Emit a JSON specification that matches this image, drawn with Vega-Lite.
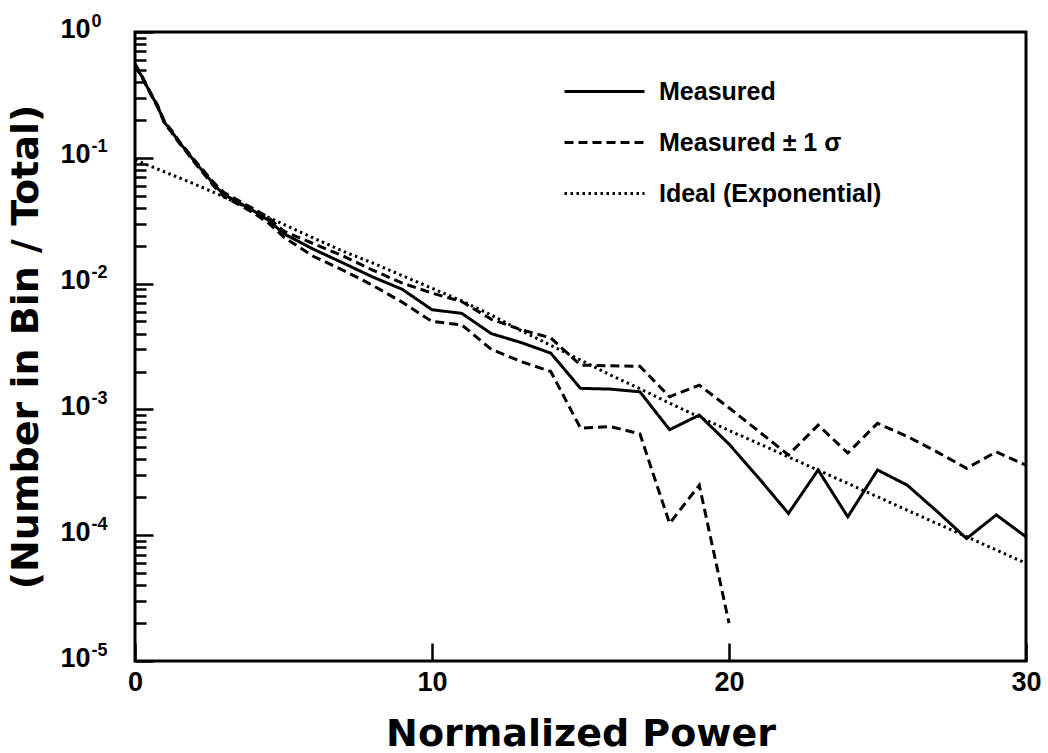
{
  "$schema": "https://vega.github.io/schema/vega-lite/v6.json",
  "width": 891,
  "height": 629,
  "autosize": {"type": "none"},
  "padding": {"left": 135, "top": 32, "right": 22, "bottom": 92},
  "background": "white",
  "config": {
    "view": {"stroke": "black", "strokeWidth": 3},
    "font": "Liberation Sans"
  },
  "datasets": {
    "curves": [
      {"power": 0, "fraction": 0.55, "curve": "measured", "series": "Measured"},
      {"power": 0.25, "fraction": 0.435, "curve": "measured", "series": "Measured"},
      {"power": 0.5, "fraction": 0.333, "curve": "measured", "series": "Measured"},
      {"power": 0.75, "fraction": 0.26, "curve": "measured", "series": "Measured"},
      {"power": 1, "fraction": 0.19, "curve": "measured", "series": "Measured"},
      {"power": 1.25, "fraction": 0.16, "curve": "measured", "series": "Measured"},
      {"power": 1.5, "fraction": 0.132, "curve": "measured", "series": "Measured"},
      {"power": 1.75, "fraction": 0.112, "curve": "measured", "series": "Measured"},
      {"power": 2, "fraction": 0.094, "curve": "measured", "series": "Measured"},
      {"power": 2.25, "fraction": 0.08, "curve": "measured", "series": "Measured"},
      {"power": 2.5, "fraction": 0.068, "curve": "measured", "series": "Measured"},
      {"power": 2.75, "fraction": 0.058, "curve": "measured", "series": "Measured"},
      {"power": 3, "fraction": 0.051, "curve": "measured", "series": "Measured"},
      {"power": 3.5, "fraction": 0.044, "curve": "measured", "series": "Measured"},
      {"power": 4, "fraction": 0.0378, "curve": "measured", "series": "Measured"},
      {"power": 4.5, "fraction": 0.0318, "curve": "measured", "series": "Measured"},
      {"power": 5, "fraction": 0.025, "curve": "measured", "series": "Measured"},
      {"power": 6, "fraction": 0.0188, "curve": "measured", "series": "Measured"},
      {"power": 7, "fraction": 0.0146, "curve": "measured", "series": "Measured"},
      {"power": 8, "fraction": 0.0113, "curve": "measured", "series": "Measured"},
      {"power": 9, "fraction": 0.009, "curve": "measured", "series": "Measured"},
      {"power": 10, "fraction": 0.0062, "curve": "measured", "series": "Measured"},
      {"power": 11, "fraction": 0.0058, "curve": "measured", "series": "Measured"},
      {"power": 12, "fraction": 0.004, "curve": "measured", "series": "Measured"},
      {"power": 13, "fraction": 0.0034, "curve": "measured", "series": "Measured"},
      {"power": 14, "fraction": 0.0028, "curve": "measured", "series": "Measured"},
      {"power": 15, "fraction": 0.00147, "curve": "measured", "series": "Measured"},
      {"power": 16, "fraction": 0.00145, "curve": "measured", "series": "Measured"},
      {"power": 17, "fraction": 0.00138, "curve": "measured", "series": "Measured"},
      {"power": 18, "fraction": 0.00069, "curve": "measured", "series": "Measured"},
      {"power": 19, "fraction": 0.0009, "curve": "measured", "series": "Measured"},
      {"power": 20, "fraction": 0.00053, "curve": "measured", "series": "Measured"},
      {"power": 21, "fraction": 0.000285, "curve": "measured", "series": "Measured"},
      {"power": 22, "fraction": 0.000149, "curve": "measured", "series": "Measured"},
      {"power": 23, "fraction": 0.00033, "curve": "measured", "series": "Measured"},
      {"power": 24, "fraction": 0.00014, "curve": "measured", "series": "Measured"},
      {"power": 25, "fraction": 0.00033, "curve": "measured", "series": "Measured"},
      {"power": 26, "fraction": 0.00025, "curve": "measured", "series": "Measured"},
      {"power": 27, "fraction": 0.000155, "curve": "measured", "series": "Measured"},
      {"power": 28, "fraction": 0.000094, "curve": "measured", "series": "Measured"},
      {"power": 29, "fraction": 0.000145, "curve": "measured", "series": "Measured"},
      {"power": 30, "fraction": 0.000097, "curve": "measured", "series": "Measured"},

      {"power": 0, "fraction": 0.56, "curve": "upper", "series": "Measured ± 1 σ"},
      {"power": 0.25, "fraction": 0.44, "curve": "upper", "series": "Measured ± 1 σ"},
      {"power": 0.5, "fraction": 0.337, "curve": "upper", "series": "Measured ± 1 σ"},
      {"power": 0.75, "fraction": 0.264, "curve": "upper", "series": "Measured ± 1 σ"},
      {"power": 1, "fraction": 0.193, "curve": "upper", "series": "Measured ± 1 σ"},
      {"power": 1.25, "fraction": 0.163, "curve": "upper", "series": "Measured ± 1 σ"},
      {"power": 1.5, "fraction": 0.134, "curve": "upper", "series": "Measured ± 1 σ"},
      {"power": 1.75, "fraction": 0.114, "curve": "upper", "series": "Measured ± 1 σ"},
      {"power": 2, "fraction": 0.096, "curve": "upper", "series": "Measured ± 1 σ"},
      {"power": 2.25, "fraction": 0.082, "curve": "upper", "series": "Measured ± 1 σ"},
      {"power": 2.5, "fraction": 0.07, "curve": "upper", "series": "Measured ± 1 σ"},
      {"power": 2.75, "fraction": 0.06, "curve": "upper", "series": "Measured ± 1 σ"},
      {"power": 3, "fraction": 0.053, "curve": "upper", "series": "Measured ± 1 σ"},
      {"power": 3.5, "fraction": 0.0455, "curve": "upper", "series": "Measured ± 1 σ"},
      {"power": 4, "fraction": 0.0393, "curve": "upper", "series": "Measured ± 1 σ"},
      {"power": 4.5, "fraction": 0.0335, "curve": "upper", "series": "Measured ± 1 σ"},
      {"power": 5, "fraction": 0.0262, "curve": "upper", "series": "Measured ± 1 σ"},
      {"power": 6, "fraction": 0.0208, "curve": "upper", "series": "Measured ± 1 σ"},
      {"power": 7, "fraction": 0.0166, "curve": "upper", "series": "Measured ± 1 σ"},
      {"power": 8, "fraction": 0.0128, "curve": "upper", "series": "Measured ± 1 σ"},
      {"power": 9, "fraction": 0.0101, "curve": "upper", "series": "Measured ± 1 σ"},
      {"power": 10, "fraction": 0.0084, "curve": "upper", "series": "Measured ± 1 σ"},
      {"power": 11, "fraction": 0.0072, "curve": "upper", "series": "Measured ± 1 σ"},
      {"power": 12, "fraction": 0.0052, "curve": "upper", "series": "Measured ± 1 σ"},
      {"power": 13, "fraction": 0.0043, "curve": "upper", "series": "Measured ± 1 σ"},
      {"power": 14, "fraction": 0.0037, "curve": "upper", "series": "Measured ± 1 σ"},
      {"power": 15, "fraction": 0.00225, "curve": "upper", "series": "Measured ± 1 σ"},
      {"power": 16, "fraction": 0.00222, "curve": "upper", "series": "Measured ± 1 σ"},
      {"power": 17, "fraction": 0.0022, "curve": "upper", "series": "Measured ± 1 σ"},
      {"power": 18, "fraction": 0.00126, "curve": "upper", "series": "Measured ± 1 σ"},
      {"power": 19, "fraction": 0.00156, "curve": "upper", "series": "Measured ± 1 σ"},
      {"power": 20, "fraction": 0.00103, "curve": "upper", "series": "Measured ± 1 σ"},
      {"power": 21, "fraction": 0.00067, "curve": "upper", "series": "Measured ± 1 σ"},
      {"power": 22, "fraction": 0.000434, "curve": "upper", "series": "Measured ± 1 σ"},
      {"power": 23, "fraction": 0.00075, "curve": "upper", "series": "Measured ± 1 σ"},
      {"power": 24, "fraction": 0.00045, "curve": "upper", "series": "Measured ± 1 σ"},
      {"power": 25, "fraction": 0.000775, "curve": "upper", "series": "Measured ± 1 σ"},
      {"power": 26, "fraction": 0.00061, "curve": "upper", "series": "Measured ± 1 σ"},
      {"power": 27, "fraction": 0.00046, "curve": "upper", "series": "Measured ± 1 σ"},
      {"power": 28, "fraction": 0.00034, "curve": "upper", "series": "Measured ± 1 σ"},
      {"power": 29, "fraction": 0.00046, "curve": "upper", "series": "Measured ± 1 σ"},
      {"power": 30, "fraction": 0.00036, "curve": "upper", "series": "Measured ± 1 σ"},

      {"power": 0, "fraction": 0.54, "curve": "lower", "series": "Measured ± 1 σ"},
      {"power": 0.25, "fraction": 0.43, "curve": "lower", "series": "Measured ± 1 σ"},
      {"power": 0.5, "fraction": 0.329, "curve": "lower", "series": "Measured ± 1 σ"},
      {"power": 0.75, "fraction": 0.256, "curve": "lower", "series": "Measured ± 1 σ"},
      {"power": 1, "fraction": 0.187, "curve": "lower", "series": "Measured ± 1 σ"},
      {"power": 1.25, "fraction": 0.157, "curve": "lower", "series": "Measured ± 1 σ"},
      {"power": 1.5, "fraction": 0.13, "curve": "lower", "series": "Measured ± 1 σ"},
      {"power": 1.75, "fraction": 0.11, "curve": "lower", "series": "Measured ± 1 σ"},
      {"power": 2, "fraction": 0.092, "curve": "lower", "series": "Measured ± 1 σ"},
      {"power": 2.25, "fraction": 0.078, "curve": "lower", "series": "Measured ± 1 σ"},
      {"power": 2.5, "fraction": 0.066, "curve": "lower", "series": "Measured ± 1 σ"},
      {"power": 2.75, "fraction": 0.056, "curve": "lower", "series": "Measured ± 1 σ"},
      {"power": 3, "fraction": 0.049, "curve": "lower", "series": "Measured ± 1 σ"},
      {"power": 3.5, "fraction": 0.0425, "curve": "lower", "series": "Measured ± 1 σ"},
      {"power": 4, "fraction": 0.0363, "curve": "lower", "series": "Measured ± 1 σ"},
      {"power": 4.5, "fraction": 0.0302, "curve": "lower", "series": "Measured ± 1 σ"},
      {"power": 5, "fraction": 0.0235, "curve": "lower", "series": "Measured ± 1 σ"},
      {"power": 6, "fraction": 0.0165, "curve": "lower", "series": "Measured ± 1 σ"},
      {"power": 7, "fraction": 0.0128, "curve": "lower", "series": "Measured ± 1 σ"},
      {"power": 8, "fraction": 0.0097, "curve": "lower", "series": "Measured ± 1 σ"},
      {"power": 9, "fraction": 0.0071, "curve": "lower", "series": "Measured ± 1 σ"},
      {"power": 10, "fraction": 0.005, "curve": "lower", "series": "Measured ± 1 σ"},
      {"power": 11, "fraction": 0.0047, "curve": "lower", "series": "Measured ± 1 σ"},
      {"power": 12, "fraction": 0.003, "curve": "lower", "series": "Measured ± 1 σ"},
      {"power": 13, "fraction": 0.0024, "curve": "lower", "series": "Measured ± 1 σ"},
      {"power": 14, "fraction": 0.002, "curve": "lower", "series": "Measured ± 1 σ"},
      {"power": 15, "fraction": 0.00071, "curve": "lower", "series": "Measured ± 1 σ"},
      {"power": 16, "fraction": 0.00073, "curve": "lower", "series": "Measured ± 1 σ"},
      {"power": 17, "fraction": 0.00064, "curve": "lower", "series": "Measured ± 1 σ"},
      {"power": 18, "fraction": 0.000124, "curve": "lower", "series": "Measured ± 1 σ"},
      {"power": 19, "fraction": 0.00025, "curve": "lower", "series": "Measured ± 1 σ"},
      {"power": 20, "fraction": 0.00002, "curve": "lower", "series": "Measured ± 1 σ"},

      {"power": 0, "fraction": 0.0961, "curve": "ideal", "series": "Ideal (Exponential)"},
      {"power": 1, "fraction": 0.0771, "curve": "ideal", "series": "Ideal (Exponential)"},
      {"power": 2, "fraction": 0.0619, "curve": "ideal", "series": "Ideal (Exponential)"},
      {"power": 3, "fraction": 0.0488, "curve": "ideal", "series": "Ideal (Exponential)"},
      {"power": 4, "fraction": 0.038, "curve": "ideal", "series": "Ideal (Exponential)"},
      {"power": 5, "fraction": 0.0296, "curve": "ideal", "series": "Ideal (Exponential)"},
      {"power": 6, "fraction": 0.0231, "curve": "ideal", "series": "Ideal (Exponential)"},
      {"power": 7, "fraction": 0.0181, "curve": "ideal", "series": "Ideal (Exponential)"},
      {"power": 8, "fraction": 0.0146, "curve": "ideal", "series": "Ideal (Exponential)"},
      {"power": 9, "fraction": 0.01156, "curve": "ideal", "series": "Ideal (Exponential)"},
      {"power": 10, "fraction": 0.00918, "curve": "ideal", "series": "Ideal (Exponential)"},
      {"power": 11, "fraction": 0.00728, "curve": "ideal", "series": "Ideal (Exponential)"},
      {"power": 12, "fraction": 0.00562, "curve": "ideal", "series": "Ideal (Exponential)"},
      {"power": 13, "fraction": 0.00423, "curve": "ideal", "series": "Ideal (Exponential)"},
      {"power": 14, "fraction": 0.00323, "curve": "ideal", "series": "Ideal (Exponential)"},
      {"power": 15, "fraction": 0.00247, "curve": "ideal", "series": "Ideal (Exponential)"},
      {"power": 16, "fraction": 0.00188, "curve": "ideal", "series": "Ideal (Exponential)"},
      {"power": 17, "fraction": 0.00146, "curve": "ideal", "series": "Ideal (Exponential)"},
      {"power": 18, "fraction": 0.00112, "curve": "ideal", "series": "Ideal (Exponential)"},
      {"power": 19, "fraction": 0.00087, "curve": "ideal", "series": "Ideal (Exponential)"},
      {"power": 20, "fraction": 0.00068, "curve": "ideal", "series": "Ideal (Exponential)"},
      {"power": 21, "fraction": 0.000535, "curve": "ideal", "series": "Ideal (Exponential)"},
      {"power": 22, "fraction": 0.000419, "curve": "ideal", "series": "Ideal (Exponential)"},
      {"power": 23, "fraction": 0.000329, "curve": "ideal", "series": "Ideal (Exponential)"},
      {"power": 24, "fraction": 0.000258, "curve": "ideal", "series": "Ideal (Exponential)"},
      {"power": 25, "fraction": 0.000202, "curve": "ideal", "series": "Ideal (Exponential)"},
      {"power": 26, "fraction": 0.000158, "curve": "ideal", "series": "Ideal (Exponential)"},
      {"power": 27, "fraction": 0.000124, "curve": "ideal", "series": "Ideal (Exponential)"},
      {"power": 28, "fraction": 0.0000973, "curve": "ideal", "series": "Ideal (Exponential)"},
      {"power": 29, "fraction": 0.0000763, "curve": "ideal", "series": "Ideal (Exponential)"},
      {"power": 30, "fraction": 0.0000598, "curve": "ideal", "series": "Ideal (Exponential)"}
    ]
  },
  "data": {"name": "curves"},
  "encoding": {
    "x": {
      "field": "power",
      "type": "quantitative",
      "scale": {"domain": [0, 30], "nice": false, "zero": false},
      "axis": {
        "values": [0, 10, 20, 30],
        "domain": false,
        "grid": false,
        "tickSize": -18,
        "tickWidth": 2.5,
        "tickColor": "black",
        "labelFlush": false,
        "labelOverlap": false,
        "labelFont": "Liberation Sans",
        "labelFontWeight": "bold",
        "labelFontSize": 27,
        "labelColor": "black",
        "labelPadding": 26,
        "title": "Normalized Power",
        "titleFont": "DejaVu Sans",
        "titleFontWeight": "bold",
        "titleFontSize": 38,
        "titleColor": "black",
        "titlePadding": 20
      }
    },
    "detail": {"field": "curve"},
    "strokeDash": {
      "field": "series",
      "type": "nominal",
      "scale": {
        "domain": ["Measured", "Measured ± 1 σ", "Ideal (Exponential)"],
        "range": [[1, 0], [9, 5], [2.5, 3.5]]
      },
      "legend": {
        "title": null,
        "orient": "none",
        "legendX": 448,
        "legendY": 38,
        "padding": 0,
        "symbolType": "M-2,0H2",
        "symbolSize": 1600,
        "symbolStrokeWidth": 3,
        "symbolStrokeColor": "black",
        "labelFont": "Liberation Sans",
        "labelFontWeight": "bold",
        "labelFontSize": 25,
        "labelColor": "black",
        "labelOffset": 33,
        "labelLimit": 400,
        "rowPadding": 16
      }
    }
  },
  "layer": [
    {
      "transform": [{"filter": "datum.curve != 'ideal'"}],
      "mark": {"type": "line", "color": "black", "strokeWidth": 3, "strokeCap": "butt", "clip": true},
      "encoding": {
        "y": {
          "field": "fraction",
          "type": "quantitative",
          "scale": {"type": "log", "domain": [0.00001, 1], "nice": false},
          "axis": {
            "orient": "left",
            "values": [
              0.00001, 0.00002, 0.00003, 0.00004, 0.00005, 0.00006, 0.00007, 0.00008, 0.00009,
              0.0001, 0.0002, 0.0003, 0.0004, 0.0005, 0.0006, 0.0007, 0.0008, 0.0009,
              0.001, 0.002, 0.003, 0.004, 0.005, 0.006, 0.007, 0.008, 0.009,
              0.01, 0.02, 0.03, 0.04, 0.05, 0.06, 0.07, 0.08, 0.09,
              0.1, 0.2, 0.3, 0.4, 0.5, 0.6, 0.7, 0.8, 0.9, 1
            ],
            "labelExpr": "abs(log(datum.value) / LN10 - round(log(datum.value) / LN10)) < 0.001 ? '10' : ''",
            "domain": false,
            "grid": false,
            "tickSize": {"condition": {"test": "abs(log(datum.value) / LN10 - round(log(datum.value) / LN10)) < 0.001", "value": -18}, "value": -11},
            "tickWidth": 2.5,
            "tickColor": "black",
            "labelOverlap": false,
            "labelFlush": false,
            "labelBaseline": "middle",
            "labelOffset": -3,
            "labelFont": "Liberation Sans",
            "labelFontWeight": "bold",
            "labelFontSize": 27,
            "labelColor": "black",
            "labelPadding": 63,
            "title": "(Number in Bin / Total)",
            "titleFont": "DejaVu Sans",
            "titleFontWeight": "bold",
            "titleFontSize": 38,
            "titleColor": "black",
            "titlePadding": 14
          }
        }
      }
    },
    {
      "transform": [{"filter": "datum.curve == 'ideal'"}],
      "mark": {"type": "line", "color": "black", "strokeWidth": 3, "strokeCap": "butt", "clip": true},
      "encoding": {
        "y": {
          "field": "fraction",
          "type": "quantitative",
          "scale": {"type": "log", "domain": [0.00001, 1], "nice": false},
          "axis": {
            "orient": "left",
            "values": [0.00001, 0.0001, 0.001, 0.01, 0.1, 1],
            "labelExpr": "['0', '-1', '-2', '-3', '-4', '-5'][round(-log(datum.value) / LN10)]",
            "domain": false,
            "grid": false,
            "ticks": false,
            "labelOverlap": false,
            "labelFlush": false,
            "labelAlign": "left",
            "labelBaseline": "middle",
            "labelOffset": -11,
            "labelFont": "Liberation Sans",
            "labelFontWeight": "bold",
            "labelFontSize": 18,
            "labelColor": "black",
            "labelPadding": 44,
            "title": null
          }
        }
      }
    }
  ],
  "resolve": {"axis": {"y": "independent"}}
}
